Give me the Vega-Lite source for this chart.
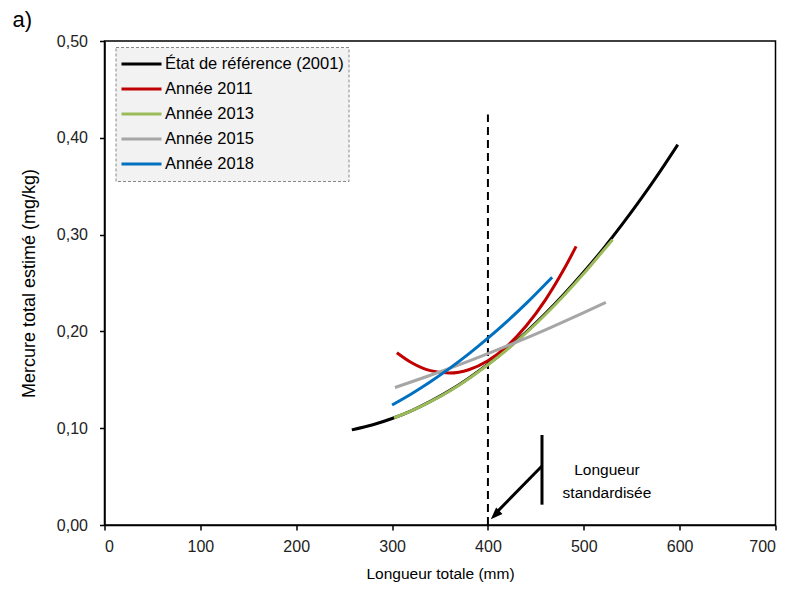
{
  "$schema": "https://vega.github.io/schema/vega-lite/v6.json",
  "width": 671,
  "height": 484,
  "autosize": {"type": "none"},
  "padding": {"left": 104.5, "top": 41, "right": 17.5, "bottom": 64},
  "background": "white",
  "title": {"text": "a)", "anchor": "start", "frame": "group", "dx": -92, "offset": -16, "font": "Liberation Sans", "fontSize": 22, "fontWeight": "normal", "baseline": "alphabetic", "color": "#000"},
  "config": {
    "view": {"stroke": "#000", "strokeWidth": 1.5},
    "axis": {
      "domainColor": "#000", "domainWidth": 1.5, "tickColor": "#000", "tickWidth": 1.5, "tickSize": 5,
      "grid": false, "labelFont": "Liberation Sans", "labelFontSize": 16, "labelColor": "#222",
      "titleFont": "Liberation Sans", "titleFontSize": 15.5, "titleFontWeight": "normal", "titleColor": "#000"
    },
    "legend": {"labelFont": "Liberation Sans", "labelFontSize": 16.5, "labelColor": "#000"}
  },
  "datasets": {
    "curves": [
      {"serie": "État de référence (2001)", "longueur": 258, "mercure": 0.0983},
      {"serie": "État de référence (2001)", "longueur": 280, "mercure": 0.1036},
      {"serie": "État de référence (2001)", "longueur": 300, "mercure": 0.1100},
      {"serie": "État de référence (2001)", "longueur": 320, "mercure": 0.1180},
      {"serie": "État de référence (2001)", "longueur": 340, "mercure": 0.1277},
      {"serie": "État de référence (2001)", "longueur": 360, "mercure": 0.1388},
      {"serie": "État de référence (2001)", "longueur": 380, "mercure": 0.1517},
      {"serie": "État de référence (2001)", "longueur": 400, "mercure": 0.1660},
      {"serie": "État de référence (2001)", "longueur": 420, "mercure": 0.1818},
      {"serie": "État de référence (2001)", "longueur": 440, "mercure": 0.1994},
      {"serie": "État de référence (2001)", "longueur": 460, "mercure": 0.2184},
      {"serie": "État de référence (2001)", "longueur": 480, "mercure": 0.2391},
      {"serie": "État de référence (2001)", "longueur": 500, "mercure": 0.2613},
      {"serie": "État de référence (2001)", "longueur": 520, "mercure": 0.2850},
      {"serie": "État de référence (2001)", "longueur": 540, "mercure": 0.3105},
      {"serie": "État de référence (2001)", "longueur": 560, "mercure": 0.3374},
      {"serie": "État de référence (2001)", "longueur": 580, "mercure": 0.3659},
      {"serie": "État de référence (2001)", "longueur": 598, "mercure": 0.3929},
      {"serie": "Année 2011", "longueur": 305, "mercure": 0.1780},
      {"serie": "Année 2011", "longueur": 320, "mercure": 0.1679},
      {"serie": "Année 2011", "longueur": 340, "mercure": 0.1595},
      {"serie": "Année 2011", "longueur": 360, "mercure": 0.1570},
      {"serie": "Année 2011", "longueur": 380, "mercure": 0.1604},
      {"serie": "Année 2011", "longueur": 400, "mercure": 0.1696},
      {"serie": "Année 2011", "longueur": 420, "mercure": 0.1848},
      {"serie": "Année 2011", "longueur": 440, "mercure": 0.2058},
      {"serie": "Année 2011", "longueur": 460, "mercure": 0.2326},
      {"serie": "Année 2011", "longueur": 480, "mercure": 0.2654},
      {"serie": "Année 2011", "longueur": 492, "mercure": 0.2878},
      {"serie": "Année 2013", "longueur": 302, "mercure": 0.1106},
      {"serie": "Année 2013", "longueur": 320, "mercure": 0.1178},
      {"serie": "Année 2013", "longueur": 340, "mercure": 0.1274},
      {"serie": "Année 2013", "longueur": 360, "mercure": 0.1384},
      {"serie": "Année 2013", "longueur": 380, "mercure": 0.1512},
      {"serie": "Année 2013", "longueur": 400, "mercure": 0.1655},
      {"serie": "Année 2013", "longueur": 420, "mercure": 0.1812},
      {"serie": "Année 2013", "longueur": 440, "mercure": 0.1986},
      {"serie": "Année 2013", "longueur": 460, "mercure": 0.2174},
      {"serie": "Année 2013", "longueur": 480, "mercure": 0.2378},
      {"serie": "Année 2013", "longueur": 500, "mercure": 0.2597},
      {"serie": "Année 2013", "longueur": 520, "mercure": 0.2830},
      {"serie": "Année 2013", "longueur": 530, "mercure": 0.2946},
      {"serie": "Année 2015", "longueur": 303, "mercure": 0.1420},
      {"serie": "Année 2015", "longueur": 340, "mercure": 0.1547},
      {"serie": "Année 2015", "longueur": 380, "mercure": 0.1693},
      {"serie": "Année 2015", "longueur": 400, "mercure": 0.1770},
      {"serie": "Année 2015", "longueur": 420, "mercure": 0.1850},
      {"serie": "Année 2015", "longueur": 460, "mercure": 0.2017},
      {"serie": "Année 2015", "longueur": 500, "mercure": 0.2194},
      {"serie": "Année 2015", "longueur": 523, "mercure": 0.2300},
      {"serie": "Année 2018", "longueur": 300, "mercure": 0.1240},
      {"serie": "Année 2018", "longueur": 320, "mercure": 0.1354},
      {"serie": "Année 2018", "longueur": 340, "mercure": 0.1480},
      {"serie": "Année 2018", "longueur": 360, "mercure": 0.1618},
      {"serie": "Année 2018", "longueur": 380, "mercure": 0.1768},
      {"serie": "Année 2018", "longueur": 400, "mercure": 0.1930},
      {"serie": "Année 2018", "longueur": 420, "mercure": 0.2104},
      {"serie": "Année 2018", "longueur": 440, "mercure": 0.2290},
      {"serie": "Année 2018", "longueur": 467, "mercure": 0.2560}
    ]
  },
  "layer": [
    {
      "data": {"values": [{"x": 400, "y": 0, "y2": 0.424}]},
      "mark": {"type": "rule", "color": "#000", "strokeWidth": 2, "strokeDash": [8, 5]},
      "encoding": {
        "x": {"field": "x", "type": "quantitative", "scale": {"domain": [0, 700], "nice": false}},
        "y": {"field": "y", "type": "quantitative", "scale": {"domain": [0, 0.5], "nice": false}},
        "y2": {"field": "y2"}
      }
    },
    {
      "data": {"name": "curves"},
      "mark": {"type": "line", "strokeWidth": 3, "interpolate": "monotone"},
      "encoding": {
        "x": {"field": "longueur", "type": "quantitative", "scale": {"domain": [0, 700], "nice": false},
          "axis": {"title": "Longueur totale (mm)", "values": [0, 100, 200, 300, 400, 500, 600, 700], "labelPadding": 8, "titlePadding": 12}},
        "y": {"field": "mercure", "type": "quantitative", "scale": {"domain": [0, 0.5], "nice": false},
          "axis": {"title": "Mercure total estimé (mg/kg)", "values": [0, 0.1, 0.2, 0.3, 0.4, 0.5], "labelExpr": "replace(format(datum.value, '.2f'), '.', ',')", "labelPadding": 12, "titlePadding": 18, "titleFontSize": 18}},
        "color": {"field": "serie", "type": "nominal",
          "scale": {"domain": ["État de référence (2001)", "Année 2011", "Année 2013", "Année 2015", "Année 2018"],
                    "range": ["#000000", "#c00000", "#9bbb59", "#a6a6a6", "#0070c0"]},
          "legend": {"title": null, "orient": "none", "legendX": 11, "legendY": 6,
            "symbolType": "stroke", "symbolSize": 1600, "symbolStrokeWidth": 3, "labelOffset": 2,
            "clipHeight": 25, "rowPadding": 0, "padding": 4.5, "labelLimit": 400,
            "fillColor": "#f2f2f2", "strokeColor": "#888888",
            "encoding": {"legend": {"strokeDash": {"value": [3, 2]}}}}},
        "order": {"field": "longueur", "type": "quantitative"}
      }
    },
    {
      "data": {"values": [{"x": 456.4, "y": 0.021, "y2": 0.093}]},
      "mark": {"type": "rule", "color": "#000", "strokeWidth": 3},
      "encoding": {
        "x": {"field": "x", "type": "quantitative"},
        "y": {"field": "y", "type": "quantitative"},
        "y2": {"field": "y2"}
      }
    },
    {
      "data": {"values": [{"x": 456.4, "y": 0.061, "x2": 408, "y2": 0.012}]},
      "mark": {"type": "rule", "color": "#000", "strokeWidth": 3},
      "encoding": {
        "x": {"field": "x", "type": "quantitative"},
        "y": {"field": "y", "type": "quantitative"},
        "x2": {"field": "x2"},
        "y2": {"field": "y2"}
      }
    },
    {
      "data": {"values": [{"x": 403, "y": 0.006}]},
      "mark": {"type": "point", "shape": "M0,0 L0.45,1.2 L-0.45,1.2 Z", "size": 400, "filled": true, "color": "#000", "opacity": 1, "angle": 225},
      "encoding": {
        "x": {"field": "x", "type": "quantitative"},
        "y": {"field": "y", "type": "quantitative"}
      }
    },
    {
      "data": {"values": [{"x": 524.2, "y": 0.0568, "label": "Longueur\nstandardisée"}]},
      "mark": {"type": "text", "align": "center", "baseline": "middle", "lineBreak": "\n", "lineHeight": 23, "font": "Liberation Sans", "fontSize": 15.5, "color": "#000"},
      "encoding": {
        "x": {"field": "x", "type": "quantitative"},
        "y": {"field": "y", "type": "quantitative"},
        "text": {"field": "label"}
      }
    }
  ]
}
